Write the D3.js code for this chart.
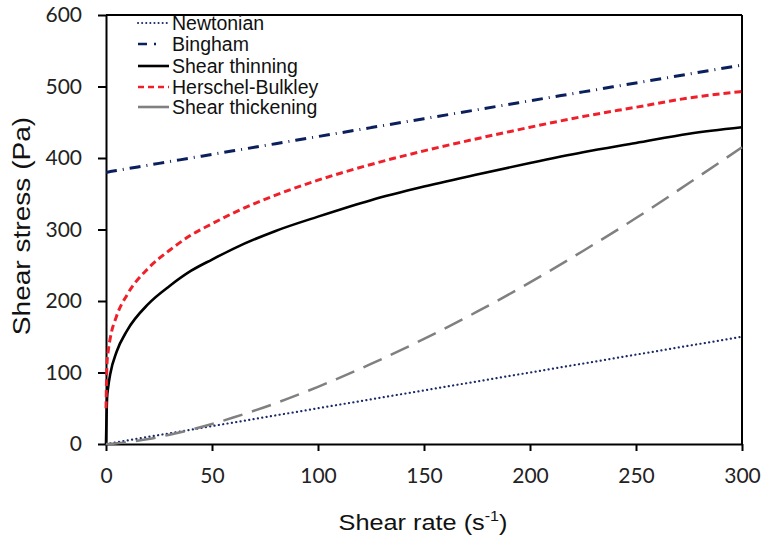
<!DOCTYPE html>
<html>
<head>
<meta charset="utf-8">
<script src="https://cdn.jsdelivr.net/npm/d3@7"></script>
<style>
  body { margin: 0; background: #fff; }
  svg { display: block; }
</style>
</head>
<body>
<div id="chart"></div>
<script>
// values
var shearRate   = [0, 0.5, 1, 2, 5, 10, 20, 30, 40, 50, 60, 80, 100, 125, 150, 175, 200, 225, 250, 275, 300];
var newtonian   = [0, 0.25, 0.5, 1, 2.5, 5, 10, 15, 20, 25, 30, 40, 50, 62.5, 75, 87.5, 100, 112.5, 125, 137.5, 150];
var bingham     = [380, 380, 380.5, 381, 382.5, 385, 390, 395, 400, 405, 410, 420, 430, 442.5, 455, 467.5, 480, 492.5, 505, 517.5, 530];
var thinning    = [0, 64, 79, 98, 129, 159, 196, 221, 242, 258, 273, 298, 318, 341, 360, 377, 393, 408, 421, 434, 443];
var herschel    = [50, 114, 129, 148, 179, 209, 246, 271, 292, 308, 323, 348, 369, 391, 410, 427, 443, 458, 471, 484, 493];
var thickening  = [0, 0, 0.1, 0.2, 0.9, 2.5, 7, 13, 20, 28, 37, 57, 80, 112, 147, 185, 226, 270, 316, 365, 415];

var xTicks = [0, 50, 100, 150, 200, 250, 300];
var yTicks = [0, 100, 200, 300, 400, 500, 600];

var seriesNames = ["Newtonian", "Bingham", "Shear thinning", "Herschel-Bulkley", "Shear thickening"];
var seriesValues = [newtonian, bingham, thinning, herschel, thickening];
// stroke, width, dash, linecap (legend dash kept separately)
var seriesStyle = [
  {color: "#1a2a68", w: 2.2, dash: "0.1 4.3", cap: "round", legDash: "0.1 4"},
  {color: "#0a1f5c", w: 3, dash: "11 6 1 6", cap: "butt", legDash: "9 7 2 13"},
  {color: "#000000", w: 2.6, dash: null, cap: "butt", legDash: null},
  {color: "#f0202a", w: 3, dash: "7 4", cap: "butt", legDash: "6 4"},
  {color: "#808080", w: 2.5, dash: "20 10", cap: "butt", legDash: null}
];

var W = 762, H = 540;
var margin = {top: 15, right: 20, bottom: 96, left: 106};
var width = 742 - margin.left;
var height = 444 - margin.top;

var svg = d3.select("#chart").append("svg").attr("width", W).attr("height", H);
var g = svg.append("g").attr("transform", "translate(" + margin.left + "," + margin.top + ")");

var x = d3.scaleLinear().domain([0, 300]).range([0, width]);
var y = d3.scaleLinear().domain([0, 600]).range([height, 0]);

// axes
var xAxis = g.append("g").attr("transform", "translate(0," + height + ")")
  .call(d3.axisBottom(x).tickValues(xTicks).tickSize(7).tickSizeOuter(0).tickPadding(17));
var yAxis = g.append("g")
  .call(d3.axisLeft(y).tickValues(yTicks).tickSize(8).tickSizeOuter(0).tickPadding(16));

[xAxis, yAxis].forEach(function(a) {
  a.selectAll("path, line").attr("stroke", "#000").attr("stroke-width", 2);
  a.selectAll("text").attr("font-family", "Lato, 'Open Sans', sans-serif")
    .attr("font-size", 21).attr("fill", "#222");
});

// frame top + right
g.append("line").attr("x1", 0).attr("x2", width).attr("y1", 0).attr("y2", 0)
  .attr("stroke", "#000").attr("stroke-width", 2);
g.append("line").attr("x1", width).attr("x2", width).attr("y1", 0).attr("y2", height)
  .attr("stroke", "#000").attr("stroke-width", 2);

// curves
var line = d3.line()
  .x(function(d) { return x(d[0]); })
  .y(function(d) { return y(d[1]); })
  .curve(d3.curveMonotoneX);

seriesValues.forEach(function(vals, i) {
  var st = seriesStyle[i];
  var pts = shearRate.map(function(r, j) { return [r, vals[j]]; });
  g.append("path").datum(pts)
    .attr("d", line)
    .attr("fill", "none")
    .attr("stroke", st.color)
    .attr("stroke-width", st.w)
    .attr("stroke-linecap", st.cap)
    .attr("stroke-dasharray", st.dash);
});

// legend
var legend = g.append("g").attr("transform", "translate(32,0)");
var rowY = [8, 29, 51, 72, 92];
seriesNames.forEach(function(name, i) {
  var st = seriesStyle[i];
  var row = legend.append("g").attr("transform", "translate(0," + rowY[i] + ")");
  row.append("line").attr("x1", 0).attr("x2", 31).attr("y1", 0).attr("y2", 0)
    .attr("stroke", st.color)
    .attr("stroke-width", i == 0 ? 2 : 2.6)
    .attr("stroke-linecap", st.cap)
    .attr("stroke-dasharray", st.legDash);
  row.append("text").attr("x", 34).attr("y", 7)
    .attr("font-family", "'Liberation Sans', Arial, sans-serif")
    .attr("font-size", 19.5).attr("fill", "#111")
    .text(name);
});

// axis titles (reference lettering is a bit stretched)
var xt = svg.append("g").attr("transform", "translate(423,530) scale(1.15,1)")
  .append("text")
  .attr("text-anchor", "middle")
  .attr("font-family", "'Liberation Sans', Arial, sans-serif")
  .attr("font-size", 22).attr("fill", "#111");
xt.append("tspan").text("Shear rate (s");
xt.append("tspan").attr("font-size", 14).attr("dy", -9).text("-1");
xt.append("tspan").attr("dy", 9).text(")");

svg.append("g").attr("transform", "translate(30,226) rotate(-90) scale(1.17,1)")
  .append("text")
  .attr("text-anchor", "middle")
  .attr("font-family", "'Liberation Sans', Arial, sans-serif")
  .attr("font-size", 24).attr("fill", "#111")
  .text("Shear stress (Pa)");
</script>
</body>
</html>
